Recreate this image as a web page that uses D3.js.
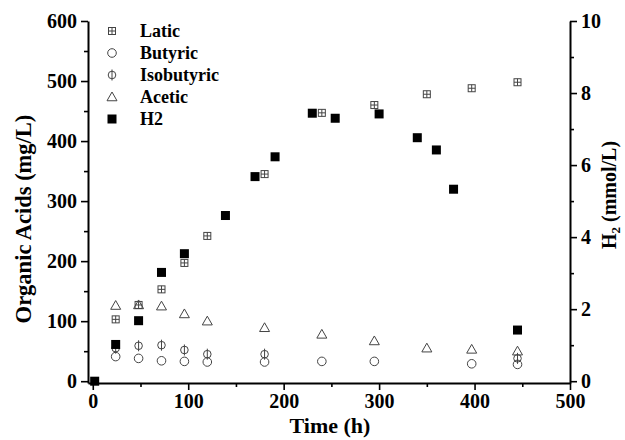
<!DOCTYPE html>
<html>
<head>
<meta charset="utf-8">
<script src="https://cdnjs.cloudflare.com/ajax/libs/d3/7.8.5/d3.min.js"></script>
<style>
  body { margin: 0; background: #fff; }
  text { font-family: "Liberation Serif", "DejaVu Serif", serif; fill: #000; }
</style>
</head>
<body>
<div id="chart"></div>
<script>
// values
const laticT = [24, 48, 72, 96, 120, 180, 240, 295, 350, 397, 445];
const laticV = [103, 127, 153, 197, 242, 345, 447, 460, 478, 488, 498];

const butyricT = [24, 48, 72, 96, 120, 180, 240, 295, 397, 445];
const butyricV = [41, 38, 34, 33, 32, 32, 33, 33, 29, 28];

const isoT = [24, 48, 72, 96, 120, 180, 445];
const isoV = [55, 59, 60, 52, 45, 45, 38];

const aceticT = [24, 48, 72, 96, 120, 180, 240, 295, 350, 397, 445];
const aceticV = [126, 127, 125, 112, 100, 89, 78, 67, 55, 53, 50];

const h2T = [2, 24, 48, 72, 96, 139, 170, 191, 230, 254, 300, 340, 360, 378, 445];
const h2V = [0, 1.02, 1.68, 3.02, 3.54, 4.6, 5.68, 6.23, 7.44, 7.3, 7.42, 6.76, 6.42, 5.33, 1.42];

const legendNames = ["Latic", "Butyric", "Isobutyric", "Acetic", "H2"];

const W = 625, H = 440;
const margin = { top: 21, right: 55, bottom: 57, left: 88 };
const width = W - margin.left - margin.right;
const height = H - margin.top - margin.bottom;

const svg = d3.select('#chart').append('svg')
  .attr('width', W).attr('height', H)
  .append('g')
  .attr('transform', `translate(${margin.left}, ${margin.top})`);

const x = d3.scaleLinear().domain([-5, 500]).range([0, width]);
const y = d3.scaleLinear().domain([-3, 600]).range([height, 0]);
const y2 = d3.scaleLinear().domain([-0.05, 10]).range([height, 0]);

// axes
const tickFont = '20px';
const styleAxis = g => {
  g.select('.domain').attr('stroke-width', 2);
  g.selectAll('.tick line').attr('stroke-width', 1.6);
  g.selectAll('text').attr('font-size', tickFont)
    .style('font-family', '"Liberation Serif", serif').attr('font-weight', 'bold');
};

const xMinor = svg.append('g').attr('transform', `translate(0, ${height})`)
  .call(d3.axisBottom(x).tickValues(d3.range(50, 500, 100)).tickSize(4).tickFormat('').tickSizeOuter(0));
xMinor.select('.domain').remove();
xMinor.selectAll('line').attr('stroke-width', 1.6);
svg.append('g').attr('transform', `translate(0, ${height})`)
  .call(d3.axisBottom(x).tickValues(d3.range(0, 501, 100)).tickSize(7).tickPadding(4).tickSizeOuter(0))
  .call(styleAxis);

const yMinor = svg.append('g')
  .call(d3.axisLeft(y).tickValues(d3.range(50, 600, 100)).tickSize(4).tickFormat('').tickSizeOuter(0));
yMinor.select('.domain').remove();
yMinor.selectAll('line').attr('stroke-width', 1.6);
svg.append('g')
  .call(d3.axisLeft(y).tickValues(d3.range(0, 601, 100)).tickSize(7).tickPadding(4).tickSizeOuter(0))
  .call(styleAxis);

const y2Minor = svg.append('g').attr('transform', `translate(${width}, 0)`)
  .call(d3.axisRight(y2).tickValues(d3.range(1, 10, 2)).tickSize(4).tickFormat('').tickSizeOuter(0));
y2Minor.select('.domain').remove();
y2Minor.selectAll('line').attr('stroke-width', 1.6);
svg.append('g').attr('transform', `translate(${width}, 0)`)
  .call(d3.axisRight(y2).tickValues(d3.range(0, 11, 2)).tickSize(7).tickPadding(4).tickSizeOuter(0))
  .call(styleAxis);

// axis labels
svg.append('text')
  .attr('x', 242).attr('y', height + 50)
  .attr('text-anchor', 'middle').attr('font-size', '22px').attr('font-weight', 'bold')
  .text('Time (h)');
svg.append('text')
  .attr('transform', `translate(${-margin.left + 31}, 198) rotate(-90)`)
  .attr('text-anchor', 'middle').attr('font-size', '22.5px').attr('font-weight', 'bold')
  .text('Organic Acids (mg/L)');
const r2 = svg.append('text')
  .attr('transform', `translate(${width + 46}, 174) rotate(-90)`)
  .attr('text-anchor', 'middle').attr('font-size', '20px').attr('font-weight', 'bold');
r2.append('tspan').text('H');
r2.append('tspan').attr('font-size', '13px').attr('dy', 4).text('2');
r2.append('tspan').attr('dy', -4).text(' (mmol/L)');

// marker drawers
const drawLatic = (g, cx, cy) => {
  const s = 3.5;
  g.append('rect').attr('x', cx - s).attr('y', cy - s).attr('width', 2 * s).attr('height', 2 * s)
    .attr('fill', 'none').attr('stroke', '#444').attr('stroke-width', 1);
  g.append('path').attr('d', `M${cx - s},${cy}H${cx + s}M${cx},${cy - s}V${cy + s}`)
    .attr('stroke', '#444').attr('stroke-width', 1);
};
const drawButyric = (g, cx, cy) => {
  g.append('circle').attr('cx', cx).attr('cy', cy).attr('r', 4.3)
    .attr('fill', 'none').attr('stroke', '#444').attr('stroke-width', 1);
};
const drawIso = (g, cx, cy) => {
  g.append('circle').attr('cx', cx).attr('cy', cy).attr('r', 3.8)
    .attr('fill', 'none').attr('stroke', '#444').attr('stroke-width', 1);
  g.append('path').attr('d', `M${cx},${cy - 5.5}V${cy + 5.5}`)
    .attr('stroke', '#444').attr('stroke-width', 1);
};
const drawAcetic = (g, cx, cy) => {
  const s = 5;
  g.append('path').attr('d', `M${cx},${cy - s}L${cx + s},${cy + s * 0.75}L${cx - s},${cy + s * 0.75}Z`)
    .attr('fill', 'none').attr('stroke', '#444').attr('stroke-width', 1);
};
const drawH2 = (g, cx, cy) => {
  const s = 4.5;
  g.append('rect').attr('x', cx - s).attr('y', cy - s).attr('width', 2 * s).attr('height', 2 * s)
    .attr('fill', '#000');
};

const plot = svg.append('g');
butyricT.forEach((t, i) => drawButyric(plot, x(t), y(butyricV[i])));
isoT.forEach((t, i) => drawIso(plot, x(t), y(isoV[i])));
aceticT.forEach((t, i) => drawAcetic(plot, x(t), y(aceticV[i])));
laticT.forEach((t, i) => drawLatic(plot, x(t), y(laticV[i])));
h2T.forEach((t, i) => drawH2(plot, x(t), y2(h2V[i])));

// legend
const drawers = [drawLatic, drawButyric, drawIso, drawAcetic, drawH2];
const legend = svg.append('g').attr('transform', 'translate(24, 10)');
legendNames.forEach((name, i) => {
  drawers[i](legend, 0, i * 22);
  legend.append('text').attr('x', 28).attr('y', i * 22 + 6)
    .attr('font-size', '18px').attr('font-weight', 'bold').text(name);
});
</script>
</body>
</html>
